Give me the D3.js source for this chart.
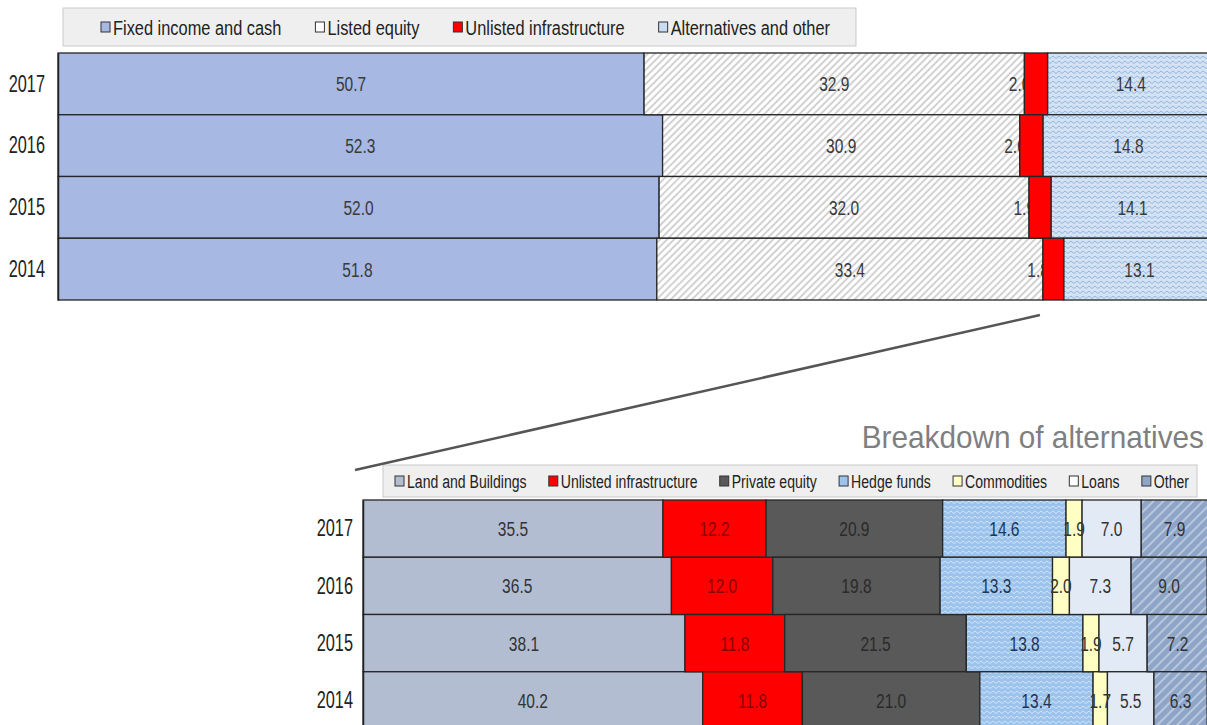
<!DOCTYPE html>
<html>
<head>
<meta charset="utf-8">
<script src="https://cdn.jsdelivr.net/npm/d3@7"></script>
<style>
  body { margin: 0; background: #fff; }
  svg { display: block; }
</style>
</head>
<body>
<svg id="chart" width="1207" height="725"></svg>
<script>
// data
const years = ["2017", "2016", "2015", "2014"];

const topSeries = ["Fixed income and cash", "Listed equity", "Unlisted infrastructure", "Alternatives and other"];
const fixedIncome = [50.7, 52.3, 52.0, 51.8];
const listedEquity = [32.9, 30.9, 32.0, 33.4];
const unlistedInfraTop = [2.0, 2.0, 1.9, 1.8];
const alternatives = [14.4, 14.8, 14.1, 13.1];

const altSeries = ["Land and Buildings", "Unlisted infrastructure", "Private equity", "Hedge funds", "Commodities", "Loans", "Other"];
const landBuildings = [35.5, 36.5, 38.1, 40.2];
const unlistedInfra = [12.2, 12.0, 11.8, 11.8];
const privateEquity = [20.9, 19.8, 21.5, 21.0];
const hedgeFunds = [14.6, 13.3, 13.8, 13.4];
const commodities = [1.9, 2.0, 1.9, 1.7];
const loans = [7.0, 7.3, 5.7, 5.5];
const other = [7.9, 9.0, 7.2, 6.3];

const title = "Breakdown of alternatives";

// no narrow font installed, so squeeze Liberation Sans sideways
const font = "'Liberation Sans', Arial, sans-serif";
const labelSqueeze = 0.74;

const svg = d3.select("#chart");
const defs = svg.append("defs");

// patterns
function hatch(id, bg, line, size, w) {
    const p = defs.append("pattern")
        .attr("id", id)
        .attr("patternUnits", "userSpaceOnUse")
        .attr("width", size).attr("height", size)
        .attr("patternTransform", "rotate(45)");
    p.append("rect").attr("width", size).attr("height", size).attr("fill", bg);
    p.append("line").attr("x1", 1).attr("x2", 1).attr("y1", 0).attr("y2", size)
        .attr("stroke", line).attr("stroke-width", w);
}
function zigzag(id, bg, line) {
    const p = defs.append("pattern")
        .attr("id", id)
        .attr("patternUnits", "userSpaceOnUse")
        .attr("width", 6).attr("height", 5);
    p.append("rect").attr("width", 6).attr("height", 5).attr("fill", bg);
    p.append("path").attr("d", "M0,3.5 L3,1 L6,3.5")
        .attr("fill", "none").attr("stroke", line).attr("stroke-width", 0.9);
}
hatch("equity", "#ffffff", "#a6a6a6", 5, 1);
hatch("otherHatch", "#8ea5c8", "#c3d0e2", 7, 1.6);
zigzag("altZig", "#d4e3f4", "#8db0db");
zigzag("hedgeZig", "#9cc3ec", "#d6e6f8");

function squeezeYearLabels(axisG, pad) {
    axisG.select(".domain").attr("stroke", "#222").attr("stroke-width", 1.5);
    axisG.selectAll("text")
        .attr("x", 0)
        .attr("transform", `translate(${-pad},0) scale(0.68,1)`)
        .attr("font-family", font)
        .attr("font-size", 24)
        .attr("fill", "#222");
}

// ---------- top chart ----------
const topFills = ["#a7b8e2", "url(#equity)", "#ff0000", "url(#altZig)"];
const topSwatch = ["#a7b8e2", "#ffffff", "#ff0000", "#c9dcf2"];
const topValues = [fixedIncome, listedEquity, unlistedInfraTop, alternatives];
const topTable = years.map((y, i) => {
    const row = { year: y };
    topSeries.forEach((s, j) => row[s] = topValues[j][i]);
    return row;
});
const topStack = d3.stack().keys(topSeries)(topTable);

const xTop = d3.scaleLinear().domain([0, 100]).range([58, 1214]);
const yTop = d3.scaleBand().domain(years).range([53, 300]).padding(0);

const topBars = svg.append("g");
const topLabels = svg.append("g");
const topRed = svg.append("g");

topStack.forEach((layer, j) => {
    const g = j === 2 ? topRed : topBars;
    g.selectAll(null)
        .data(layer)
        .enter()
        .append("rect")
        .attr("x", d => xTop(d[0]))
        .attr("y", d => yTop(d.data.year))
        .attr("width", d => xTop(d[1]) - xTop(d[0]))
        .attr("height", yTop.bandwidth())
        .attr("fill", topFills[j])
        .attr("stroke", "#262626")
        .attr("stroke-width", 1.3);

    topLabels.selectAll(null)
        .data(layer)
        .enter()
        .append("text")
        .attr("transform", d => {
            const x = j === 2 ? xTop(d[0]) + 6 : (xTop(d[0]) + xTop(d[1])) / 2;
            const y = yTop(d.data.year) + yTop.bandwidth() / 2 + 7.5;
            return `translate(${x},${y}) scale(${labelSqueeze},1)`;
        })
        .attr("text-anchor", j === 2 ? "end" : "middle")
        .attr("font-family", font)
        .attr("font-size", 21)
        .attr("fill", "#3a3a3a")
        .text(d => (d[1] - d[0]).toFixed(1));
});

const topAxis = svg.append("g")
    .attr("transform", `translate(${xTop(0)},0)`)
    .call(d3.axisLeft(yTop).tickSize(0));
squeezeYearLabels(topAxis, 13);

// legend
function legend(x, y, h, names, swatches, fontSize, squeeze, padL, padR, gap, fixedWidth) {
    const g = svg.append("g");
    const box = g.append("rect")
        .attr("x", x).attr("y", y).attr("height", h)
        .attr("fill", "#efefef").attr("stroke", "#c9c9c9");
    const items = names.map((n, i) => {
        const it = g.append("g");
        it.append("rect")
            .attr("y", y + h / 2 - 5).attr("width", 9).attr("height", 10)
            .attr("fill", swatches[i]).attr("stroke", "#333").attr("stroke-width", 1);
        const t = it.append("text")
            .attr("transform", `translate(12,${y + h / 2 + fontSize * 0.36}) scale(${squeeze},1)`)
            .attr("font-family", font)
            .attr("font-size", fontSize)
            .attr("fill", "#222")
            .text(n);
        return { it, w: 12 + t.node().getComputedTextLength() * squeeze };
    });
    const total = d3.sum(items, d => d.w);
    let g2 = gap;
    let w = fixedWidth;
    if (fixedWidth) {
        g2 = (fixedWidth - padL - padR - total) / (items.length - 1);
    } else {
        w = padL + total + gap * (items.length - 1) + padR;
    }
    box.attr("width", w);
    let cx = x + padL;
    items.forEach(d => {
        d.it.attr("transform", `translate(${cx},0)`);
        cx += d.w + g2;
    });
}
legend(63, 8, 38, topSeries, topSwatch, 21, 0.78, 38, 26, 34);

// ---------- bottom chart ----------
const botFills = ["#b3bdd2", "#ff0000", "#595959", "url(#hedgeZig)", "#ffffc4", "#e2eaf6", "url(#otherHatch)"];
const botSwatch = ["#b3bdd2", "#ff0000", "#595959", "#9cc3ec", "#ffffc4", "#ffffff", "#8ea5c8"];
const botText = ["#333333", "#8a0000", "#2a2a2a", "#1f3553", "#333333", "#333333", "#333333"];
const botValues = [landBuildings, unlistedInfra, privateEquity, hedgeFunds, commodities, loans, other];
const botTable = years.map((y, i) => {
    const row = { year: y };
    altSeries.forEach((s, j) => row[s] = botValues[j][i]);
    return row;
});
const botStack = d3.stack().keys(altSeries)(botTable);

const xBot = d3.scaleLinear().domain([0, 100]).range([363, 1208]);
const yBot = d3.scaleBand().domain(years).range([500, 729]).padding(0);

const botBars = svg.append("g");
const botLabels = svg.append("g");

botStack.forEach((layer, j) => {
    botBars.selectAll(null)
        .data(layer)
        .enter()
        .append("rect")
        .attr("x", d => xBot(d[0]))
        .attr("y", d => yBot(d.data.year))
        .attr("width", d => xBot(d[1]) - xBot(d[0]))
        .attr("height", yBot.bandwidth())
        .attr("fill", botFills[j])
        .attr("stroke", "#262626")
        .attr("stroke-width", 1.3);

    botLabels.selectAll(null)
        .data(layer)
        .enter()
        .append("text")
        .attr("transform", d => {
            const x = (xBot(d[0]) + xBot(d[1])) / 2;
            const y = yBot(d.data.year) + yBot.bandwidth() / 2 + 7.5;
            return `translate(${x},${y}) scale(${labelSqueeze},1)`;
        })
        .attr("text-anchor", "middle")
        .attr("font-family", font)
        .attr("font-size", 21)
        .attr("fill", botText[j])
        .text(d => (d[1] - d[0]).toFixed(1));
});

const botAxis = svg.append("g")
    .attr("transform", `translate(${xBot(0)},0)`)
    .call(d3.axisLeft(yBot).tickSize(0));
squeezeYearLabels(botAxis, 10);

legend(383, 465, 32, altSeries, botSwatch, 19, 0.74, 12, 8, 0, 814);

// title
svg.append("text")
    .attr("transform", "translate(1204,448) scale(0.93,1)")
    .attr("text-anchor", "end")
    .attr("font-family", font)
    .attr("font-size", 32)
    .attr("fill", "#7f7f7f")
    .text(title);

// connector from the 2014 alternatives slice down to the breakdown
const startX = xTop(fixedIncome[3] + listedEquity[3]);
svg.append("line")
    .attr("x1", startX - 3)
    .attr("y1", yTop.range()[1] + 15)
    .attr("x2", xBot(0) - 8)
    .attr("y2", 470)
    .attr("stroke", "#555")
    .attr("stroke-width", 2.5);
</script>
</body>
</html>
